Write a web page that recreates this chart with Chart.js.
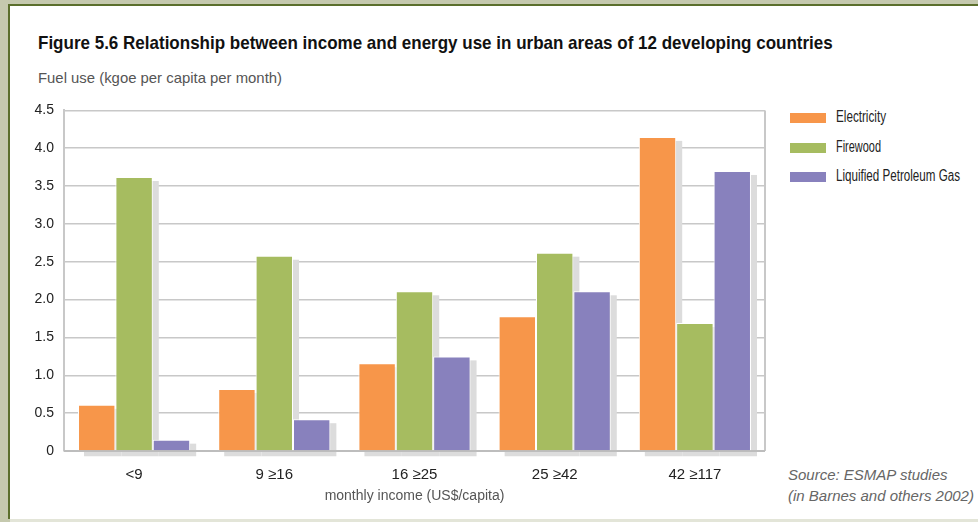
<!DOCTYPE html>
<html>
<head>
<meta charset="utf-8">
<script src="https://cdn.jsdelivr.net/npm/chart.js@4/dist/chart.umd.min.js"></script>
<style>
  html, body { margin: 0; padding: 0; }
  body { width: 978px; height: 522px; background: #c5c9ae; position: relative; overflow: hidden;
         font-family: "Liberation Sans", Arial, sans-serif; }
  #panel { position: absolute; left: 8px; top: 4px; right: 0; bottom: 3px; background: #fff;
           border-left: 2px solid #5b6f2c; border-top: 2px solid #5b6f2c; }
  #footer { position: absolute; left: 10px; right: 0; bottom: 0; height: 3px; background: #e3e5d8; }
  .squeeze { display: inline-block; transform-origin: 0 50%; white-space: nowrap; }
  #title { position: absolute; left: 38px; top: 32px; font-size: 19px; font-weight: bold; color: #111; }
  #ytitle { position: absolute; left: 38px; top: 69px; font-size: 15px; color: #555; }
  #source { position: absolute; left: 788px; top: 464px; font-size: 15px; line-height: 21px; color: #666;
            font-style: italic; white-space: nowrap; }
  #legend { position: absolute; left: 790px; top: 108px; }
  .lg-item { height: 29.5px; display: flex; align-items: flex-start; font-size: 16px; color: #222; white-space: nowrap; }
  .lg-box { width: 36px; height: 10px; margin-top: 5px; margin-right: 10px; flex: none; }
  #wrap { position: absolute; left: 0; top: 92px; width: 978px; height: 417px; }
</style>
</head>
<body>
<div id="panel"></div>
<div id="footer"></div>
<div id="title" class="squeeze" data-w="795">Figure 5.6 Relationship between income and energy use in urban areas of 12 developing countries</div>
<div id="ytitle" class="squeeze" data-w="244">Fuel use (kgoe per capita per month)</div>
<div id="legend"></div>
<div id="source">Source: ESMAP studies<br>(in Barnes and others 2002)</div>
<div id="wrap"><canvas id="chart"></canvas></div>
<script>
// data
const incomeGroups = ["<9", "9 ≥16", "16 ≥25", "25 ≥42", "42 ≥117"];
const electricity = [0.61, 0.82, 1.16, 1.78, 4.15];
const firewood = [3.62, 2.58, 2.11, 2.62, 1.69];
const lpg = [0.15, 0.42, 1.25, 2.11, 3.70];
const yTickLabels = ["0", "0.5", "1.0", "1.5", "2.0", "2.5", "3.0", "3.5", "4.0", "4.5"];
const legendWidths = [50, 45, 124];

const FONT = '"Liberation Sans", Arial, sans-serif';

// grey drop shadow behind every bar
const barShadow = {
    id: "barShadow",
    beforeDatasetsDraw(chart) {
        const ctx = chart.ctx;
        ctx.save();
        ctx.fillStyle = "#dcdcdc";
        chart.data.datasets.forEach((ds, i) => {
            chart.getDatasetMeta(i).data.forEach(bar => {
                const left = bar.x - bar.width / 2;
                ctx.fillRect(left + 6, bar.y + 4, bar.width, bar.base - bar.y + 2);
            });
        });
        ctx.restore();
    }
};

// right edge + baseline of the plot frame
const plotFrame = {
    id: "plotFrame",
    beforeDatasetsDraw(chart) {
        const { ctx, chartArea: a } = chart;
        ctx.save();
        ctx.strokeStyle = "#c8c8c8";
        ctx.lineWidth = 2;
        ctx.beginPath();
        ctx.moveTo(a.right, a.top);
        ctx.lineTo(a.right, a.bottom);
        ctx.stroke();
        ctx.strokeStyle = "#bdbdbd";
        ctx.beginPath();
        ctx.moveTo(a.left, a.bottom);
        ctx.lineTo(a.right, a.bottom);
        ctx.stroke();
        ctx.restore();
    }
};

const chart = new Chart(document.getElementById("chart"), {
    type: "bar",
    data: {
        labels: incomeGroups,
        datasets: [
            { label: "Electricity", data: electricity, backgroundColor: "#f7964a" },
            { label: "Firewood", data: firewood, backgroundColor: "#a6bc60" },
            { label: "Liquified Petroleum Gas", data: lpg, backgroundColor: "#8881bd" }
        ]
    },
    options: {
        responsive: true,
        maintainAspectRatio: false,
        animation: false,
        layout: { padding: { left: 10, right: 213, top: 12, bottom: 0 } },
        datasets: {
            bar: {
                borderColor: "#ffffff",
                borderWidth: 1,
                categoryPercentage: 0.8,
                barPercentage: 1.0
            }
        },
        plugins: {
            legend: { display: false },
            tooltip: { enabled: false }
        },
        scales: {
            x: {
                grid: { display: false },
                border: { display: false },
                ticks: { color: "#222", font: { family: FONT, size: 15 }, padding: 7 },
                title: {
                    display: true,
                    text: "monthly income (US$/capita)",
                    color: "#555",
                    font: { family: FONT, size: 14 },
                    padding: { top: 2 }
                },
                afterFit: scale => { scale.height = 58; }
            },
            y: {
                min: 0,
                max: 4.5,
                grid: { color: "#c8c8c8", lineWidth: 1.5, drawTicks: false },
                border: { color: "#c8c8c8", width: 2 },
                ticks: {
                    stepSize: 0.5,
                    padding: 10,
                    color: "#222",
                    font: { family: FONT, size: 14 },
                    callback: (v, i) => yTickLabels[i]
                },
                afterFit: scale => { scale.width = 54; }
            }
        }
    },
    plugins: [barShadow, plotFrame]
});

// legend built from the chart's own datasets
const legendEl = document.getElementById("legend");
chart.data.datasets.forEach((ds, i) => {
    const item = document.createElement("div");
    item.className = "lg-item";
    item.innerHTML = '<span class="lg-box" style="background:' + ds.backgroundColor + '"></span>' +
        '<span class="squeeze" data-w="' + legendWidths[i] + '">' + ds.label + "</span>";
    legendEl.appendChild(item);
});

// condensed look: squeeze text horizontally to the width it has in the figure
document.querySelectorAll(".squeeze").forEach(el => {
    const target = +el.dataset.w;
    const w = el.getBoundingClientRect().width;
    if (w > target) el.style.transform = "scaleX(" + (target / w).toFixed(3) + ")";
});
</script>
</body>
</html>
